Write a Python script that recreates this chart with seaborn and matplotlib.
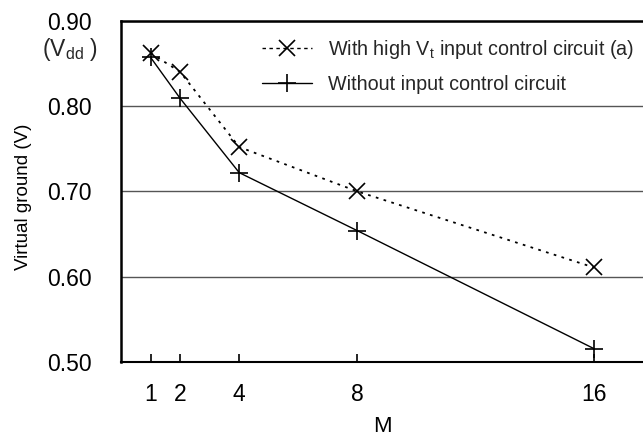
import matplotlib
matplotlib.use("Agg")
import matplotlib.pyplot as plt
import seaborn as sns
import pandas as pd
from matplotlib.lines import Line2D

# Data
M_values = [1, 2, 4, 8, 16]
with_control = [0.862, 0.840, 0.752, 0.700, 0.611]
without_control = [0.857, 0.809, 0.722, 0.654, 0.516]
series_names = ["With high V$_{\\mathrm{t}}$ input control circuit (a)",
                "Without input control circuit"]
x_ticks = [1, 2, 4, 8, 16]
y_ticks = [0.50, 0.60, 0.70, 0.80, 0.90]
y_ticklabels = ["0.50", "0.60", "0.70", "0.80", "0.90"]

sns.set_theme(style="white")
plt.rcParams['font.family'] = ['Liberation Sans', 'DejaVu Sans']
plt.rcParams['mathtext.fontset'] = 'custom'
plt.rcParams['mathtext.rm'] = 'Liberation Sans'
plt.rcParams['mathtext.it'] = 'Liberation Sans:italic'

df = pd.DataFrame({
    "M": M_values * 2,
    "V": with_control + without_control,
    "series": [series_names[0]] * 5 + [series_names[1]] * 5,
})

fig = plt.figure(figsize=(6.43, 4.38), dpi=100)
ax = fig.add_axes([121/643, 1 - 362.3/438, 522/643, 341.7/438])

sns.lineplot(data=df[df.series == series_names[0]], x="M", y="V", ax=ax,
             color="black", lw=1.3, marker="x", markersize=12, markeredgewidth=1.2,
             markeredgecolor="black", legend=False)
ax.lines[-1].set_linestyle((0, (1.5, 3)))
sns.lineplot(data=df[df.series == series_names[1]], x="M", y="V", ax=ax,
             color="black", lw=1.0, marker="+", markersize=13, markeredgewidth=1.2,
             markeredgecolor="black", legend=False)

ax.set_xlim(0, 17.66)
ax.set_ylim(0.5, 0.9)
ax.set_xticks(x_ticks)
ax.set_xticklabels([str(v) for v in x_ticks])
ax.set_yticks(y_ticks)
ax.set_yticklabels(y_ticklabels)

ax.yaxis.grid(True, color="#555555", lw=1.0)
ax.xaxis.grid(False)
ax.set_axisbelow(True)

for s in ["top", "left", "bottom"]:
    ax.spines[s].set_color("black")
ax.spines["top"].set_linewidth(1.8)
ax.spines["left"].set_linewidth(1.8)
ax.spines["bottom"].set_linewidth(1.5)
ax.spines["right"].set_visible(False)

ax.tick_params(axis="x", direction="in", length=6, width=1.2, colors="black",
               labelsize=16.5, pad=15, bottom=True, top=False)
ax.tick_params(axis="y", length=0, labelsize=16.5, pad=21, colors="black", left=True)

ax.text(-0.044, 0.914, "(V$_{\\mathrm{dd}}$ )", transform=ax.transAxes,
        ha="right", va="center", fontsize=16.5)

ax.set_xlabel("M", fontsize=16, labelpad=7, color="black")
ax.set_ylabel("Virtual ground (V)", fontsize=13.5, color="black")
ax.yaxis.set_label_coords(-0.1705, 0.485)

handles = [
    Line2D([], [], color="black", lw=1.0, linestyle=(0, (2.5, 2.5)), marker="x",
           markersize=12, markeredgewidth=1.2),
    Line2D([], [], color="black", lw=1.0, marker="+", markersize=13, markeredgewidth=1.2),
]
ax.legend(handles, series_names, loc="upper left", bbox_to_anchor=(0.270, 0.948),
          frameon=False, fontsize=14.2, handlelength=2.55, handletextpad=0.8,
          labelspacing=0.7, borderpad=0, borderaxespad=0)

fig.savefig("out.png", dpi=100)
